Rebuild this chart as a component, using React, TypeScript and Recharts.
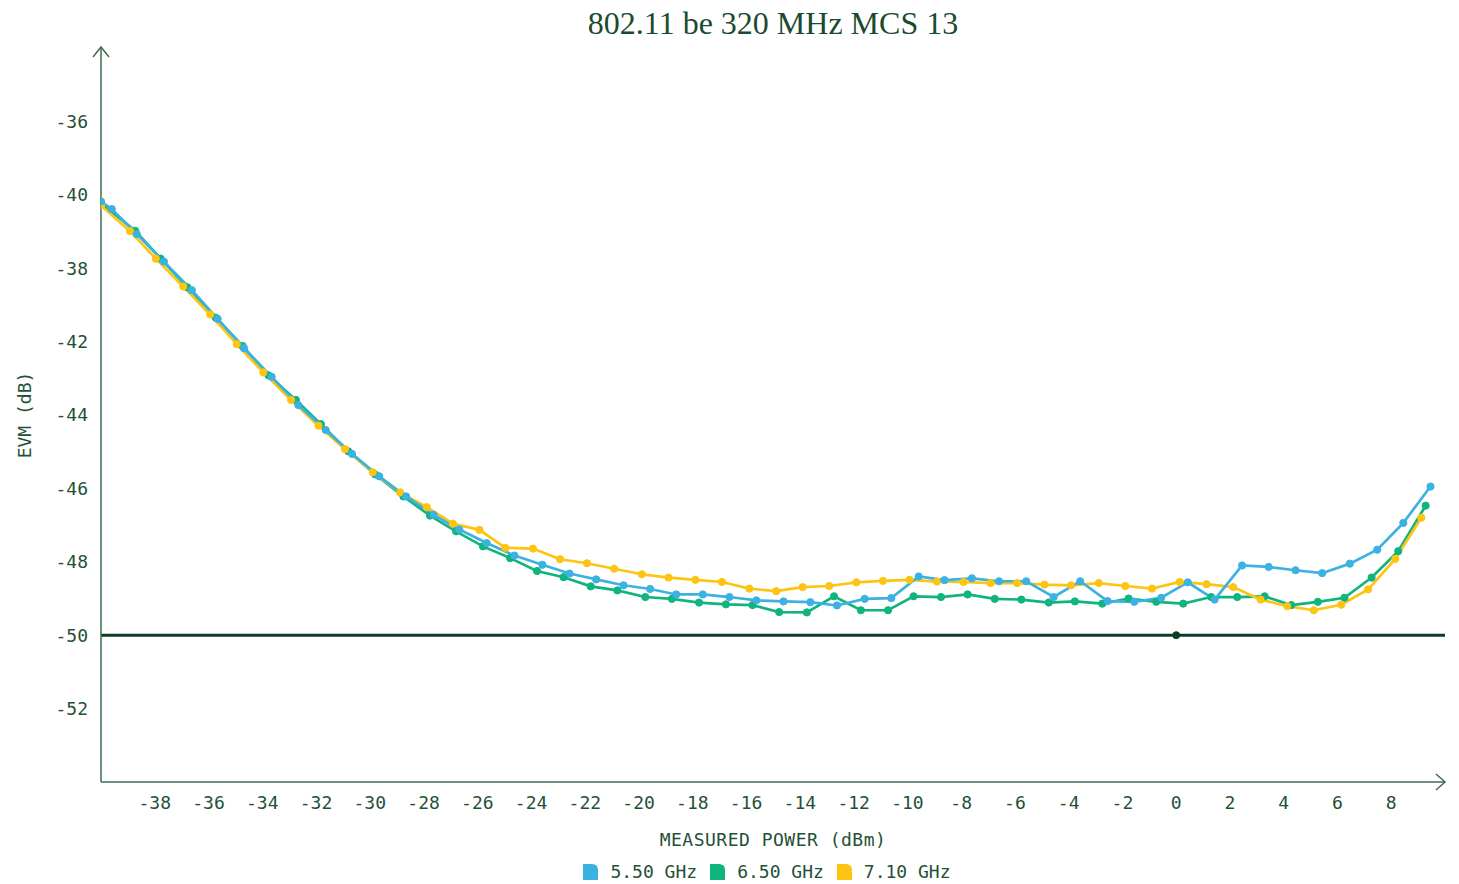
import React from 'react';
import { LineChart, Line, XAxis, YAxis, ReferenceLine, ReferenceDot } from 'recharts';

const power550 = [-40, -39.6, -38.67, -37.66, -36.62, -35.66, -34.68, -33.65, -32.66, -31.64, -30.66, -29.65, -28.65, -27.63, -26.67, -25.65, -24.62, -23.58, -22.57, -21.58, -20.56, -19.57, -18.6, -17.61, -16.62, -15.62, -14.61, -13.61, -12.62, -11.59, -10.6, -9.58, -8.62, -7.6, -6.59, -5.58, -4.56, -3.57, -2.55, -1.56, -0.56, 0.43, 1.43, 2.45, 3.44, 4.44, 5.43, 6.46, 7.48, 8.45, 9.46];
const evm550 = [-38.18, -38.39, -39.07, -39.82, -40.6, -41.38, -42.18, -42.96, -43.73, -44.41, -45.06, -45.67, -46.22, -46.72, -47.12, -47.49, -47.83, -48.08, -48.32, -48.48, -48.64, -48.74, -48.89, -48.89, -48.96, -49.05, -49.08, -49.1, -49.19, -49.01, -48.99, -48.4, -48.5, -48.45, -48.53, -48.53, -48.96, -48.53, -49.07, -49.09, -48.98, -48.56, -49.03, -48.1, -48.14, -48.23, -48.31, -48.05, -47.67, -46.94, -45.95];

const power650 = [-40, -38.73, -37.78, -36.79, -35.73, -34.73, -33.77, -32.75, -31.82, -30.8, -29.8, -28.75, -27.76, -26.79, -25.79, -24.78, -23.78, -22.79, -21.78, -20.79, -19.75, -18.76, -17.75, -16.75, -15.76, -14.77, -13.74, -12.73, -11.73, -10.72, -9.77, -8.75, -7.76, -6.75, -5.76, -4.74, -3.77, -2.75, -1.77, -0.74, 0.26, 1.3, 2.27, 3.29, 4.28, 5.27, 6.26, 7.27, 8.26, 9.28];
const evm650 = [-38.23, -38.98, -39.74, -40.52, -41.35, -42.12, -42.92, -43.59, -44.25, -44.99, -45.62, -46.22, -46.74, -47.17, -47.58, -47.9, -48.25, -48.42, -48.67, -48.78, -48.96, -49.01, -49.11, -49.16, -49.18, -49.37, -49.38, -48.94, -49.32, -49.32, -48.94, -48.96, -48.89, -49.01, -49.03, -49.11, -49.08, -49.14, -49.0, -49.09, -49.14, -48.96, -48.96, -48.94, -49.18, -49.09, -48.98, -48.43, -47.71, -46.47];

const power710 = [-40, -38.92, -37.96, -36.94, -35.94, -34.95, -33.96, -32.93, -31.91, -30.92, -29.89, -28.87, -27.88, -26.91, -25.92, -24.96, -23.93, -22.92, -21.92, -20.91, -19.88, -18.89, -17.89, -16.9, -15.88, -14.88, -13.9, -12.91, -11.9, -10.91, -9.92, -8.9, -7.91, -6.91, -5.92, -4.9, -3.91, -2.88, -1.89, -0.9, 0.13, 1.13, 2.12, 3.14, 4.13, 5.12, 6.14, 7.14, 8.15, 9.12];
const evm710 = [-38.29, -38.99, -39.74, -40.5, -41.26, -42.07, -42.84, -43.59, -44.29, -44.93, -45.56, -46.11, -46.51, -46.96, -47.13, -47.62, -47.64, -47.93, -48.04, -48.19, -48.34, -48.43, -48.49, -48.55, -48.73, -48.8, -48.69, -48.66, -48.56, -48.52, -48.49, -48.54, -48.55, -48.58, -48.58, -48.62, -48.64, -48.58, -48.66, -48.73, -48.55, -48.61, -48.69, -49.03, -49.21, -49.32, -49.17, -48.75, -47.92, -46.8];

const xTicks = [-38, -36, -34, -32, -30, -28, -26, -24, -22, -20, -18, -16, -14, -12, -10, -8, -6, -4, -2, 0, 2, 4, 6, 8];
const yTicks = [-52, -50, -48, -46, -44, -42, -40, -38, -36];
// labels as printed on the original axis (the -40 / -38 pair is swapped there)
const yTickLabels = ['-52', '-50', '-48', '-46', '-44', '-42', '-38', '-40', '-36'];

const series = [
  { name: '5.50 GHz', color: '#3cb2e3', x: power550, y: evm550 },
  { name: '6.50 GHz', color: '#10b47f', x: power650, y: evm650 },
  { name: '7.10 GHz', color: '#fec412', x: power710, y: evm710 },
];

const W = 1443;
const H = 868;
const LEFT = 93;
const RIGHT = 6;
const TOP = 40;
const BOTTOM = 94;
const INK = '#1f5136';
const AXIS = '#3e6c53';
const mono = '"DejaVu Sans Mono", monospace';

const toRows = (xs: number[], ys: number[]) => xs.map((p, i) => ({ power: p, evm: ys[i] }));

export default function App() {
  const plotW = W - LEFT - RIGHT;
  const plotB = H - BOTTOM;
  const drawOrder = [series[1], series[2], series[0]];
  return (
    <div style={{ position: 'relative', width: W, height: H + 8, fontFamily: mono, color: INK }}>
      <LineChart width={W} height={H} margin={{ top: TOP, right: RIGHT, bottom: BOTTOM - 30, left: 0 }}>
        <XAxis
          type="number"
          dataKey="power"
          domain={[-40, 10]}
          ticks={xTicks}
          allowDataOverflow
          height={30}
          tickLine={false}
          tickMargin={8}
          stroke={AXIS}
          strokeWidth={1.5}
          tick={{ fill: INK, fontSize: 18, fontFamily: mono }}
        />
        <YAxis
          type="number"
          domain={[-54, -34]}
          ticks={yTicks}
          allowDataOverflow
          width={LEFT}
          tickLine={false}
          tickMargin={7}
          stroke={AXIS}
          strokeWidth={1.5}
          tickFormatter={(v: number) => yTickLabels[yTicks.indexOf(v)] ?? String(v)}
          tick={{ fill: INK, fontSize: 18, fontFamily: mono }}
        />
        <ReferenceLine y={-50} stroke="#0e3c24" strokeWidth={3} />
        <ReferenceDot x={0} y={-50} r={3.5} fill="#0e3c24" stroke="#0e3c24" />
        {drawOrder.map((s) => (
          <Line
            key={s.name}
            data={toRows(s.x, s.y)}
            dataKey="evm"
            name={s.name}
            type="linear"
            stroke={s.color}
            strokeWidth={2.7}
            dot={{ r: 3.6, fill: s.color, stroke: s.color, strokeWidth: 1 }}
            activeDot={false}
            isAnimationActive={false}
          />
        ))}
      </LineChart>

      <svg width={W} height={H} style={{ position: 'absolute', left: 0, top: 0, pointerEvents: 'none' }}>
        <polyline points={`${LEFT - 8},${TOP + 9} ${LEFT},${TOP - 1} ${LEFT + 8},${TOP + 9}`} fill="none" stroke={AXIS} strokeWidth={1.5} />
        <polyline points={`${W - RIGHT - 9},${plotB - 8} ${W - RIGHT},${plotB} ${W - RIGHT - 9},${plotB + 8}`} fill="none" stroke={AXIS} strokeWidth={1.5} />
      </svg>

      <div style={{ position: 'absolute', left: LEFT, width: plotW, top: -3, textAlign: 'center', fontFamily: '"Liberation Serif", serif', fontSize: 32, color: '#1c4a2f', whiteSpace: 'nowrap' }}>
        802.11 be 320 MHz MCS 13
      </div>

      <div style={{ position: 'absolute', left: 17, top: TOP + (plotB - TOP) / 2, transform: 'translate(-50%, -50%) rotate(-90deg)', fontSize: 18, whiteSpace: 'nowrap', lineHeight: '20px' }}>
        EVM (dB)
      </div>

      <div style={{ position: 'absolute', left: LEFT, width: plotW, top: 822, textAlign: 'center', fontSize: 18, lineHeight: '20px', letterSpacing: 0.5 }}>
        MEASURED POWER (dBm)
      </div>

      <div style={{ position: 'absolute', left: LEFT, width: plotW - 12, top: 854, display: 'flex', justifyContent: 'center', gap: 13, fontSize: 18, lineHeight: '20px' }}>
        {series.map((s) => (
          <div key={s.name} style={{ display: 'flex', alignItems: 'center', gap: 12 }}>
            <svg width={15} height={16}>
              <path d="M0 0 H9 Q15 0 15 6 V16 H0 Z" fill={s.color} />
            </svg>
            <span>{s.name}</span>
          </div>
        ))}
      </div>
    </div>
  );
}
